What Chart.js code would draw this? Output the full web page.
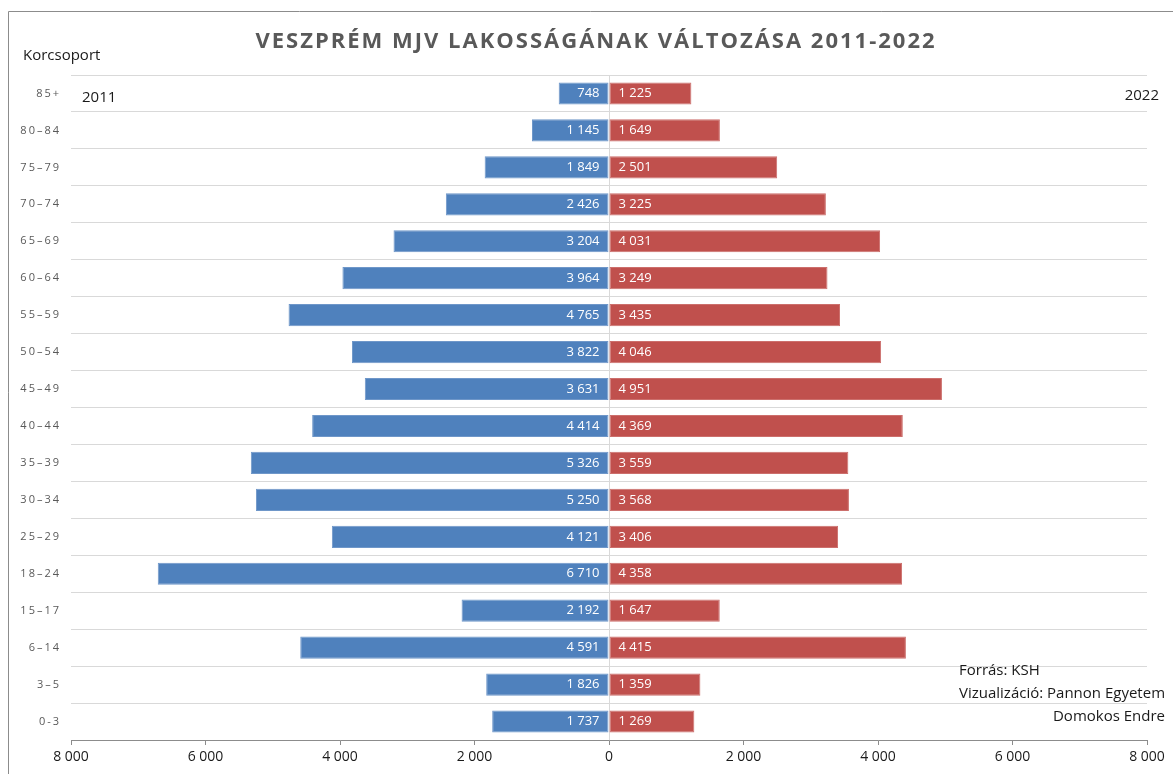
<!DOCTYPE html>
<html>
<head>
<meta charset="utf-8">
<script src="https://cdn.jsdelivr.net/npm/chart.js@4"></script>
<style>
  html, body { margin: 0; padding: 0; background: #fff; }
  #wrap { width: 1173px; height: 774px; position: relative; }
</style>
</head>
<body>
<div id="wrap"><canvas id="pyramid" width="1173" height="774"></canvas></div>
<script>
// korcsoportok felulrol lefele
const ageGroups = ['85+', '80–84', '75–79', '70–74', '65–69', '60–64', '55–59', '50–54', '45–49',
  '40–44', '35–39', '30–34', '25–29', '18–24', '15–17', '6–14', '3–5', '0-3'];
const pop2011 = [748, 1145, 1849, 2426, 3204, 3964, 4765, 3822, 3631, 4414, 5326, 5250, 4121, 6710, 2192, 4591, 1826, 1737];
const pop2022 = [1225, 1649, 2501, 3225, 4031, 3249, 3435, 4046, 4951, 4369, 3559, 3568, 3406, 4358, 1647, 4415, 1359, 1269];
const xTicks = [-8000, -6000, -4000, -2000, 0, 2000, 4000, 6000, 8000];

const BASE_FONT = "'Open Sans', 'Liberation Sans', sans-serif";
const fmt = v => Math.abs(v).toString().replace(/\B(?=(\d{3})+(?!\d))/g, ' ');

// feliratok a savokon + cim, szoveges kiegeszitok
const decorations = {
  id: 'decorations',
  beforeDraw(chart) {
    const ctx = chart.ctx;
    ctx.save();
    ctx.strokeStyle = '#8c8c8c';
    ctx.lineWidth = 1;
    ctx.beginPath();
    ctx.moveTo(8.5, 774);
    ctx.lineTo(8.5, 11.5);
    ctx.lineTo(1173, 11.5);
    ctx.stroke();
    ctx.restore();
  },
  afterDatasetsDraw(chart) {
    const ctx = chart.ctx;
    ctx.save();
    ctx.font = '13px ' + BASE_FONT;
    ctx.fillStyle = '#fff';
    ctx.textBaseline = 'middle';
    chart.data.datasets.forEach((ds, i) => {
      chart.getDatasetMeta(i).data.forEach((bar, j) => {
        const v = ds.data[j];
        if (v < 0) {
          ctx.textAlign = 'right';
          ctx.fillText(fmt(v), bar.base - 9, bar.y);
        } else {
          ctx.textAlign = 'left';
          ctx.fillText(fmt(v), bar.base + 9, bar.y);
        }
      });
    });
    ctx.restore();
    // y tengely feliratai ritkitott betukozessel (ticks.z:1 -> adatsorok utan rajzol)
    ctx.letterSpacing = '2px';
  },
  afterDraw(chart) {
    const ctx = chart.ctx;
    ctx.letterSpacing = '0px';
    ctx.save();
    ctx.fillStyle = '#595959';
    ctx.font = 'bold 22px ' + BASE_FONT;
    ctx.letterSpacing = '2px';
    ctx.textAlign = 'center';
    ctx.textBaseline = 'middle';
    ctx.fillText('VESZPRÉM MJV LAKOSSÁGÁNAK VÁLTOZÁSA 2011-2022', 596, 42);
    ctx.letterSpacing = '0px';

    ctx.fillStyle = '#1a1a1a';
    ctx.font = '15px ' + BASE_FONT;
    ctx.textAlign = 'left';
    ctx.fillText('Korcsoport', 23, 56);
    ctx.fillText('2011', 82, 98);
    ctx.textAlign = 'right';
    ctx.fillText('2022', 1159, 96);
    ctx.textAlign = 'left';
    ctx.fillText('Forrás: KSH', 959, 671);
    ctx.fillText('Vizualizáció: Pannon Egyetem', 959, 694);
    ctx.textAlign = 'right';
    ctx.fillText('Domokos Endre', 1165, 717);
    ctx.restore();
  }
};

new Chart(document.getElementById('pyramid').getContext('2d'), {
  type: 'bar',
  data: {
    labels: ageGroups,
    datasets: [{
      label: '2011',
      data: pop2011.map(v => -v),
      backgroundColor: '#4f81bd',
      borderColor: '#6f97c9',
      borderWidth: 1,
      borderSkipped: false
    }, {
      label: '2022',
      data: pop2022,
      backgroundColor: '#c0504d',
      borderColor: '#cc6f6c',
      borderWidth: 1,
      borderSkipped: false
    }]
  },
  options: {
    indexAxis: 'y',
    responsive: false,
    animation: false,
    layout: { padding: { top: 75, right: 26, bottom: 0, left: 0 } },
    datasets: { bar: { categoryPercentage: 1, barPercentage: 0.6 } },
    plugins: { legend: { display: false }, tooltip: { enabled: false } },
    scales: {
      x: {
        stacked: true,
        min: -8000,
        max: 8000,
        afterBuildTicks: axis => { axis.ticks = xTicks.map(v => ({ value: v })); },
        afterFit: axis => { axis.height = 34; },
        ticks: {
          callback: v => fmt(v),
          color: '#1a1a1a',
          font: { size: 14, family: BASE_FONT },
          padding: 4,
          maxRotation: 0
        },
        grid: {
          color: ctx => (ctx.tick && ctx.tick.value === 0 ? '#d9d9d9' : 'rgba(0,0,0,0)'),
          tickColor: '#8c8c8c',
          tickLength: 5,
          drawTicks: true
        },
        border: { color: '#8c8c8c' }
      },
      y: {
        stacked: true,
        afterFit: axis => { axis.width = 71; },
        ticks: {
          z: 1,
          color: '#595959',
          font: { size: 11, family: BASE_FONT },
          padding: 10
        },
        grid: { offset: true, color: '#d9d9d9', drawTicks: false },
        border: { display: false }
      }
    }
  },
  plugins: [decorations]
});
</script>
</body>
</html>
